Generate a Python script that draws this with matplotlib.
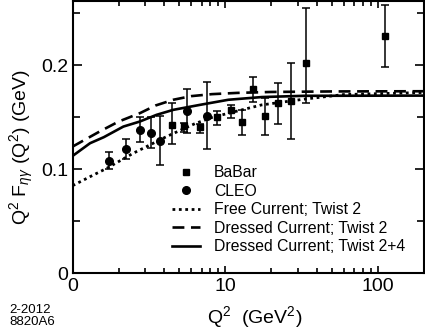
import numpy as np
import matplotlib
matplotlib.use('Agg')
from matplotlib import pyplot as plt
from matplotlib.lines import Line2D
from matplotlib.ticker import FixedLocator, NullFormatter

plt.rcParams['font.family'] = ['Liberation Sans', 'DejaVu Sans']
plt.rcParams['mathtext.fontset'] = 'custom'
plt.rcParams['mathtext.rm'] = 'Liberation Sans'
plt.rcParams['mathtext.it'] = 'Liberation Sans:italic'

# BaBar points (Q^2, value, lower err, upper err)
babar_q2 = [4.45, 5.41, 6.86, 8.86, 10.9, 12.9, 15.3, 18.3, 22.1, 27.2, 34.0, 111.4]
babar_f = [0.1431, 0.1421, 0.1408, 0.1501, 0.1568, 0.1456, 0.1776, 0.1509, 0.1641, 0.1657, 0.2023, 0.2279]
babar_lo = [0.0185, 0.0057, 0.0053, 0.0069, 0.0072, 0.0122, 0.0124, 0.0177, 0.0203, 0.0365, 0.0385, 0.0298]
babar_hi = [0.0207, 0.0030, 0.0030, 0.0060, 0.0051, 0.0117, 0.0115, 0.0177, 0.0194, 0.0363, 0.0530, 0.0299]

# CLEO points
cleo_q2 = [1.74, 2.24, 2.75, 3.24, 3.75, 5.66, 7.60]
cleo_f = [0.1085, 0.1195, 0.1383, 0.1355, 0.1275, 0.1564, 0.1517]
cleo_err = [0.0085, 0.0097, 0.0120, 0.0153, 0.0237, 0.0213, 0.0320]

# model curves
free_q2 = [1.0, 1.3, 1.67, 2.5, 4.13, 6.33, 8.2, 10.5, 17.3, 33.0, 60.0, 200.0]
free_f = [0.0844, 0.0930, 0.1010, 0.1156, 0.1316, 0.1440, 0.1500, 0.1540, 0.1620, 0.1676, 0.1720, 0.1740]

dressed2_q2 = [1.0, 1.5, 2.0, 2.76, 3.5, 4.57, 6.0, 8.2, 12.0, 20.0, 50.0, 200.0]
dressed2_f = [0.1220, 0.1364, 0.1460, 0.1541, 0.1615, 0.1670, 0.1705, 0.1724, 0.1736, 0.1745, 0.1750, 0.1752]

dressed24_q2 = [1.0, 1.3, 1.6, 2.15, 2.75, 3.55, 4.57, 6.84, 10.5, 17.4, 33.0, 200.0]
dressed24_f = [0.1130, 0.1252, 0.1310, 0.1412, 0.1460, 0.1525, 0.1573, 0.1621, 0.1670, 0.1696, 0.1708, 0.1710]

fig = plt.figure(figsize=(4.25, 3.35), dpi=100)
ax = fig.add_axes([0.171, 0.184, 0.827, 0.813])

free_ls = (0, (1, 1.3))
dash_ls = (0, (4.5, 2.5))
ax.plot(free_q2, free_f, color='black', lw=2.0, ls=free_ls)
ax.plot(dressed2_q2, dressed2_f, color='black', lw=1.9, ls=dash_ls)
ax.plot(dressed24_q2, dressed24_f, color='black', lw=1.9, ls='-')

ax.errorbar(babar_q2, babar_f, yerr=[babar_lo, babar_hi], fmt='s', color='black', ms=5,
            elinewidth=1.1, capsize=3, capthick=1.1)
ax.errorbar(cleo_q2, cleo_f, yerr=cleo_err, fmt='o', color='black', ms=5.5,
            elinewidth=1.1, capsize=3, capthick=1.1)

ax.set_xscale('log')
ax.set_xlim(1, 202)
ax.set_ylim(0, 0.262)

ax.xaxis.set_major_locator(FixedLocator([1, 10, 100]))
ax.set_xticklabels(['0', '10', '100'])
ax.xaxis.set_minor_locator(FixedLocator([2, 3, 4, 5, 6, 7, 8, 9, 20, 30, 40, 50, 60, 70, 80, 90]))
ax.xaxis.set_minor_formatter(NullFormatter())
ax.yaxis.set_major_locator(FixedLocator([0, 0.1, 0.2]))
ax.set_yticklabels(['0', '0.1', '0.2'])
ax.yaxis.set_minor_locator(FixedLocator([0.05, 0.15, 0.25]))

ax.tick_params(which='both', direction='in', top=True, right=True, width=1.2, labelsize=14, pad=3)
ax.tick_params(axis='x', which='major', length=5)
ax.tick_params(axis='x', which='minor', length=3.3)
ax.tick_params(axis='y', which='major', length=6.5)
ax.tick_params(axis='y', which='minor', length=5)
for s in ax.spines.values():
    s.set_linewidth(1.5)

# legend: plain markers for the data, line samples for the models
handles = [
    Line2D([], [], marker='s', ls='none', color='black', ms=5),
    Line2D([], [], marker='o', ls='none', color='black', ms=5.5),
    Line2D([], [], color='black', lw=2.0, ls=free_ls),
    Line2D([], [], color='black', lw=1.9, ls=dash_ls),
    Line2D([], [], color='black', lw=1.9, ls='-'),
]
labels = ['BaBar', 'CLEO', 'Free Current; Twist 2', 'Dressed Current; Twist 2',
          'Dressed Current; Twist 2+4']
ax.legend(handles, labels, loc='lower left', bbox_to_anchor=(0.2816, 0.07), frameon=False,
          fontsize=11.3, handlelength=1.8, handletextpad=0.9, labelspacing=0.22,
          borderpad=0, borderaxespad=0)

fig.text(22 / 425, 1 - 147 / 335, 'Q$^2$ F$_{\\eta\\gamma}$ (Q$^2$) (GeV)', rotation=90,
         ha='center', va='center', fontsize=14)
fig.text(255 / 425, 1 - 317 / 335, 'Q$^2$  (GeV$^2$)', ha='center', va='center', fontsize=14)
fig.text(9 / 425, 1 - 316 / 335, '2-2012\n8820A6', ha='left', va='center', fontsize=9.5,
         linespacing=1.0)

fig.savefig('out.png', dpi=100)
